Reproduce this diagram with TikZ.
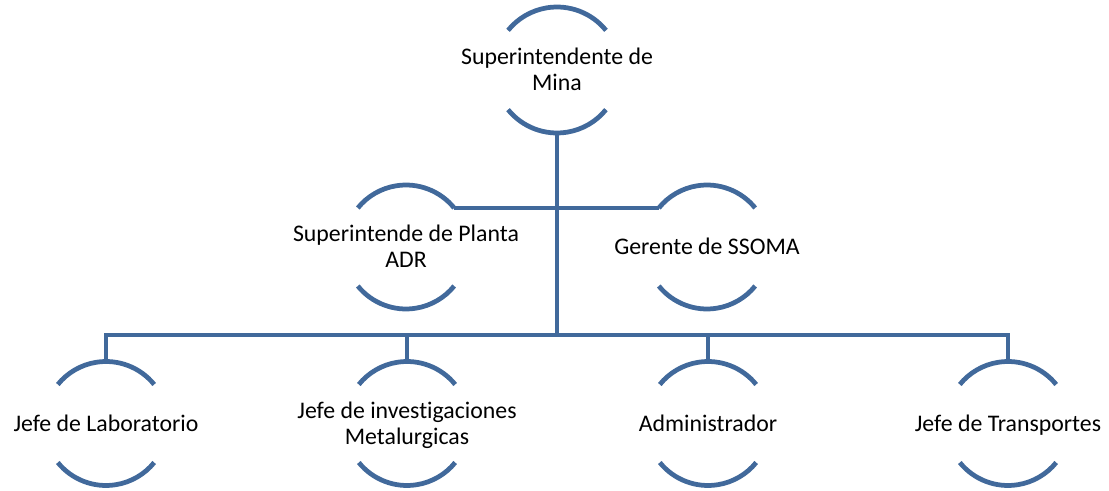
\documentclass[tikz,border=0pt]{standalone}
\usepackage{fontspec}
\setmainfont{Carlito}[Ligatures=NoCommon]
\definecolor{orgblue}{RGB}{65,105,155}
\begin{document}
\begin{tikzpicture}[x=1bp,y=-1bp,
  ring/.style={circle,inner sep=0pt,outer sep=0pt,minimum size=124bp},
  bigring/.style={circle,inner sep=0pt,outer sep=0pt,minimum size=126bp},
  lbl/.style={inner sep=0pt,outer sep=0pt,align=center,text height=15.5bp,text depth=0pt,
    font=\fontsize{23.8bp}{26.5bp}\selectfont},
  lbltwo/.style={lbl,text height=42bp},
  arcline/.style={draw=orgblue,line width=4.75bp,line cap=butt},
  conn/.style={draw=orgblue,line width=4.75bp,line join=miter}]
\useasboundingbox (0,0) rectangle (1109,491);
% circles
\node[bigring] (top) at (557,70) {};
\node[ring] (s1) at (406,247) {};
\node[ring] (s2) at (707,247) {};
\node[ring] (l1) at (106,423.5) {};
\node[ring] (l2) at (407,423.5) {};
\node[ring] (l3) at (708,423.5) {};
\node[ring] (l4) at (1008,423.5) {};
% labels
\node[lbltwo] (topT) at (top) {Superintendente de\\Mina};
\node[lbltwo] (s1T) at (s1) {Superintende de Planta\\ADR};
\node[lbl] (s2T) at (s2) {Gerente de SSOMA};
\node[lbl] (l1T) at (l1) {Jefe de Laboratorio};
\node[lbltwo] (l2T) at (l2) {Jefe de investigaciones\\Metalurgicas};
\node[lbl] (l3T) at (l3) {Administrador};
\node[lbl] (l4T) at (l4) {Jefe de Transportes};
% arcs
\draw[arcline] (top.39) arc[start angle=-39,end angle=-141,radius=63];
\draw[arcline] (top.219) arc[start angle=-219,end angle=-321,radius=63];
\foreach \n in {s1,s2,l1,l2,l3,l4}{
  \draw[arcline] (\n.39) arc[start angle=-39,end angle=-141,radius=62];
  \draw[arcline] (\n.219) arc[start angle=-219,end angle=-321,radius=62];
}
% connectors
\coordinate (bus) at (557,335);
\draw[conn] (top.south) -- (bus);
\draw[conn] (s1.39) -- (s2.141);
\draw[conn] (l1.north) |- (bus) -| (l4.north);
\draw[conn] (l2.north) -- (l2.north |- bus);
\draw[conn] (l3.north) -- (l3.north |- bus);
\end{tikzpicture}
\end{document}
